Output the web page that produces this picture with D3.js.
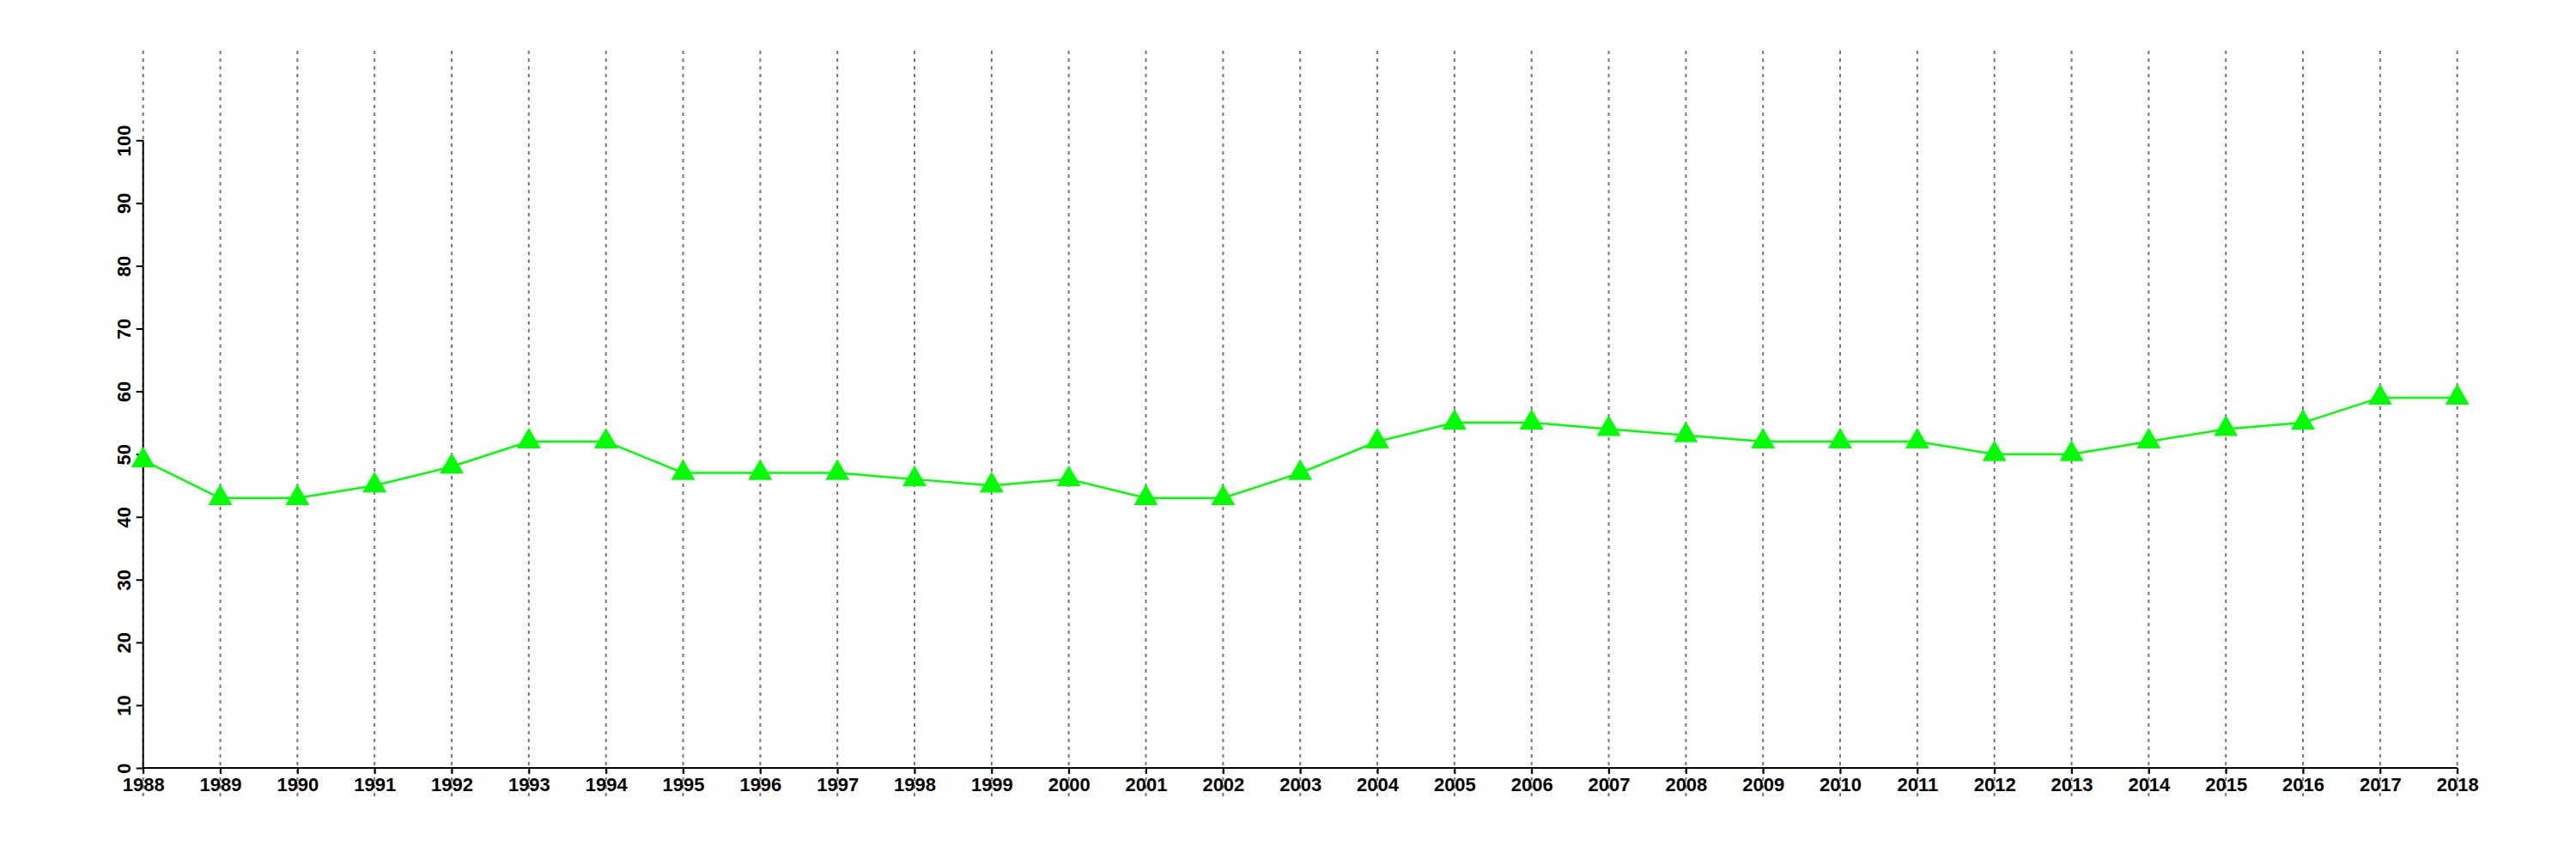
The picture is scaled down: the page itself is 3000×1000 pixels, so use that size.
<!DOCTYPE html>
<html>
<head>
<meta charset="utf-8">
<script src="https://cdn.jsdelivr.net/npm/d3@7"></script>
<style>
  html, body { margin: 0; padding: 0; background: #fff; }
  svg { display: block; }
  text { font-family: "Liberation Sans", Arial, Helvetica, sans-serif; font-weight: bold; }
</style>
</head>
<body>
<svg id="chart" width="3000" height="1000"></svg>
<script>
const years = [1988,1989,1990,1991,1992,1993,1994,1995,1996,1997,1998,1999,2000,2001,2002,2003,2004,2005,2006,2007,2008,2009,2010,2011,2012,2013,2014,2015,2016,2017,2018];
const values = [49,43,43,45,48,52,52,47,47,47,46,45,46,43,43,47,52,55,55,54,53,52,52,52,50,50,52,54,55,59,59];
const yTicks = [0,10,20,30,40,50,60,70,80,90,100];

const svg = d3.select("#chart");
const x = d3.scaleLinear().domain([1988, 2018]).range([166.7, 2861.7]);
const y = d3.scaleLinear().domain([0, 100]).range([894, 163.3]);

// vertical dashed grid lines
svg.append("g").selectAll("line").data(years).join("line")
  .attr("x1", d => x(d)).attr("x2", d => x(d))
  .attr("y1", 59).attr("y2", 928)
  .attr("stroke", "#777").attr("stroke-width", 2)
  .attr("stroke-dasharray", "4,5");

// x axis
const xAxis = d3.axisBottom(x).tickValues(years).tickFormat(d3.format("d")).tickSize(7).tickPadding(4);
const gx = svg.append("g").attr("transform", "translate(0,894)").call(xAxis);
gx.select(".domain").attr("stroke", "#000").attr("stroke-width", 2).attr("d", `M${x(1988)},0H${x(2018)}`);
gx.selectAll(".tick line").attr("stroke", "#000").attr("stroke-width", 2);
gx.selectAll(".tick text").attr("fill", "#000").attr("font-size", 22)
  .style("font-family", '"Liberation Sans", Arial, sans-serif').style("font-weight", "bold");

// y axis
const yAxis = d3.axisLeft(y).tickValues(yTicks).tickSize(8).tickPadding(6);
const gy = svg.append("g").attr("transform", `translate(${x(1988)},0)`).call(yAxis);
gy.select(".domain").attr("stroke", "#000").attr("stroke-width", 2).attr("d", `M0,${y(0)}V${y(100)}`);
gy.selectAll(".tick line").attr("stroke", "#000").attr("stroke-width", 2);
gy.selectAll(".tick text")
  .attr("fill", "#000").attr("font-size", 22)
  .style("font-family", '"Liberation Sans", Arial, sans-serif').style("font-weight", "bold")
  .attr("x", null).attr("dy", null)
  .attr("text-anchor", "middle")
  .attr("transform", "translate(-15,0) rotate(-90)");

// line
const line = d3.line().x((d, i) => x(years[i])).y(d => y(d));
svg.append("path").datum(values)
  .attr("d", line).attr("fill", "none")
  .attr("stroke", "#00ff00").attr("stroke-width", 2.5);

// triangle markers
const sym = d3.symbol().type(d3.symbolTriangle).size(339);
svg.append("g").selectAll("path").data(values).join("path")
  .attr("d", sym)
  .attr("transform", (d, i) => `translate(${x(years[i])},${y(d)})`)
  .attr("fill", "#00ff00");
</script>
</body>
</html>
